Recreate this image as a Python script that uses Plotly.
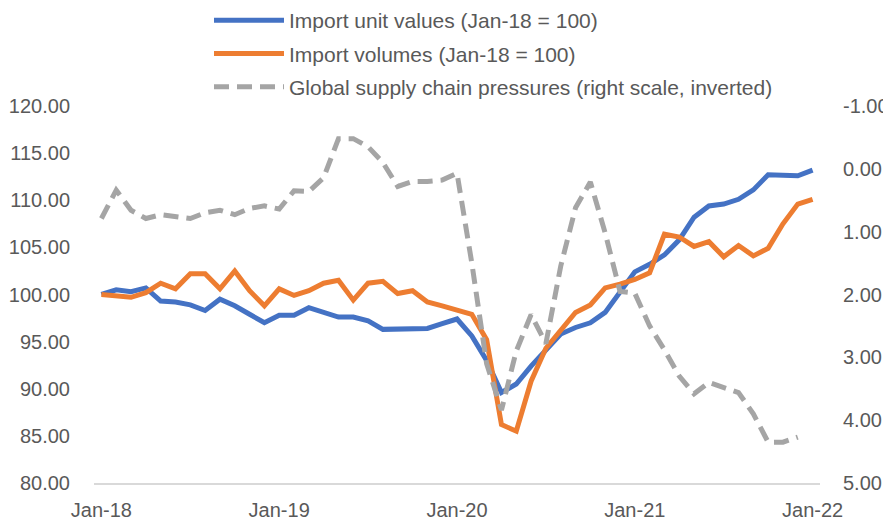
import plotly.graph_objects as go

# ---- data ----
months = ["Jan", "Feb", "Mar", "Apr", "May", "Jun", "Jul", "Aug", "Sep", "Oct", "Nov", "Dec"]
years = ["18", "19", "20", "21"]
categories = [f"{m}-{y}" for y in years for m in months] + ["Jan-22"]

tick_labels = ["Jan-18", "Jan-19", "Jan-20", "Jan-21", "Jan-22"]
left_ticks = [80, 85, 90, 95, 100, 105, 110, 115, 120]
left_tick_text = ["80.00", "85.00", "90.00", "95.00", "100.00", "105.00", "110.00", "115.00", "120.00"]
right_ticks = [-1, 0, 1, 2, 3, 4, 5]
right_tick_text = ["-1.00", "0.00", "1.00", "2.00", "3.00", "4.00", "5.00"]

import_unit_values = [
    100.0, 100.5, 100.3, 100.7, 99.3, 99.2, 98.9, 98.3, 99.5, 98.8, 97.9, 97.0,
    97.8, 97.8, 98.6, 98.1, 97.6, 97.6, 97.2, 96.3, 96.3, 96.3, 96.4, 96.9,
    97.4, 95.6, 93.0, 89.6, 90.5, 92.4, 94.2, 95.8, 96.5, 97.0, 98.1, 100.2,
    102.4, 103.2, 104.2, 105.8, 108.2, 109.4, 109.6, 110.1, 111.1, 112.7, 112.6, 112.6,
    113.2,
]

import_volumes = [
    100.0, 99.8, 99.7, 100.2, 101.2, 100.6, 102.2, 102.2, 100.6, 102.5, 100.4, 98.8,
    100.6, 99.9, 100.4, 101.2, 101.5, 99.4, 101.2, 101.4, 100.1, 100.4, 99.2, 98.8,
    98.4, 97.9, 95.2, 86.2, 85.5, 90.8, 94.3, 96.1, 98.1, 98.9, 100.7, 101.1,
    101.6, 102.3, 106.4, 106.1, 105.1, 105.6, 104.0, 105.2, 104.1, 104.9, 107.5, 109.6,
    110.1,
]

supply_chain_pressures = [
    0.79, 0.34, 0.66, 0.79, 0.73, 0.75, 0.79, 0.70, 0.66, 0.73, 0.63, 0.59,
    0.64, 0.35, 0.36, 0.14, -0.48, -0.48, -0.35, -0.10, 0.28, 0.20, 0.20, 0.18,
    0.07, 1.50, 3.10, 3.84, 2.90, 2.32, 2.78, 1.55, 0.62, 0.21, 1.02, 1.95,
    1.98, 2.50, 2.88, 3.30, 3.58, 3.40, 3.48, 3.56, 3.90, 4.35, 4.35, 4.27,
    None,
]

FONT = "Liberation Sans"
GREY_TXT = "#595959"

# page body has an 8px margin, so the figure is drawn 8px smaller
W, H = 883, 513
ML, MR, MT, MB = 86, 71, 98, 38
plot_h = H - MT - MB

fig = go.Figure()
fig.add_trace(go.Scatter(
    x=categories, y=import_unit_values, mode="lines",
    name="Import unit values (Jan-18 = 100)",
    line=dict(color="#4472C4", width=5), legendgroup="a",
))
fig.add_trace(go.Scatter(
    x=categories, y=import_volumes, mode="lines",
    name="Import volumes (Jan-18 = 100)",
    line=dict(color="#ED7D31", width=5), legendgroup="b",
))
fig.add_trace(go.Scatter(
    x=categories, y=supply_chain_pressures, mode="lines", yaxis="y2",
    name="Global supply chain pressures (right scale, inverted)",
    line=dict(color="#A5A5A5", width=5, dash="15px,8px"), legendgroup="c",
    connectgaps=False,
))

fig.update_layout(
    width=W, height=H,
    margin=dict(l=ML, r=MR, t=MT, b=MB, autoexpand=False),
    paper_bgcolor="white", plot_bgcolor="white",
    font=dict(family=FONT, size=20, color=GREY_TXT),
    showlegend=True,
    legend=dict(
        xref="container", yref="paper",
        x=201 / W, y=1 + (MT + 8) / plot_h, xanchor="left", yanchor="top",
        orientation="v", traceorder="grouped", tracegroupgap=3,
        itemwidth=70,
        font=dict(family=FONT, size=21, color=GREY_TXT),
        bgcolor="rgba(0,0,0,0)",
    ),
    xaxis=dict(
        type="category", range=[-0.5, 48.5], automargin=False,
        tickvals=tick_labels, ticktext=tick_labels,
        showgrid=False, zeroline=False,
        showline=True, linecolor="#D9D9D9", linewidth=1.5,
        ticks="outside", ticklen=8, tickcolor="rgba(0,0,0,0)",
        tickfont=dict(family=FONT, size=20, color=GREY_TXT),
    ),
    yaxis=dict(
        range=[80, 120], automargin=False,
        tickvals=left_ticks, ticktext=left_tick_text,
        showgrid=False, zeroline=False, showline=False,
        ticks="outside", ticklen=19, tickcolor="rgba(0,0,0,0)",
        tickfont=dict(family=FONT, size=20, color=GREY_TXT),
    ),
    yaxis2=dict(
        overlaying="y", side="right", automargin=False,
        range=[5, -1],
        tickvals=right_ticks, ticktext=right_tick_text,
        showgrid=False, zeroline=False, showline=False,
        ticks="outside", ticklen=18, tickcolor="rgba(0,0,0,0)",
        tickfont=dict(family=FONT, size=20, color=GREY_TXT),
    ),
)

fig.write_html("out.html")
